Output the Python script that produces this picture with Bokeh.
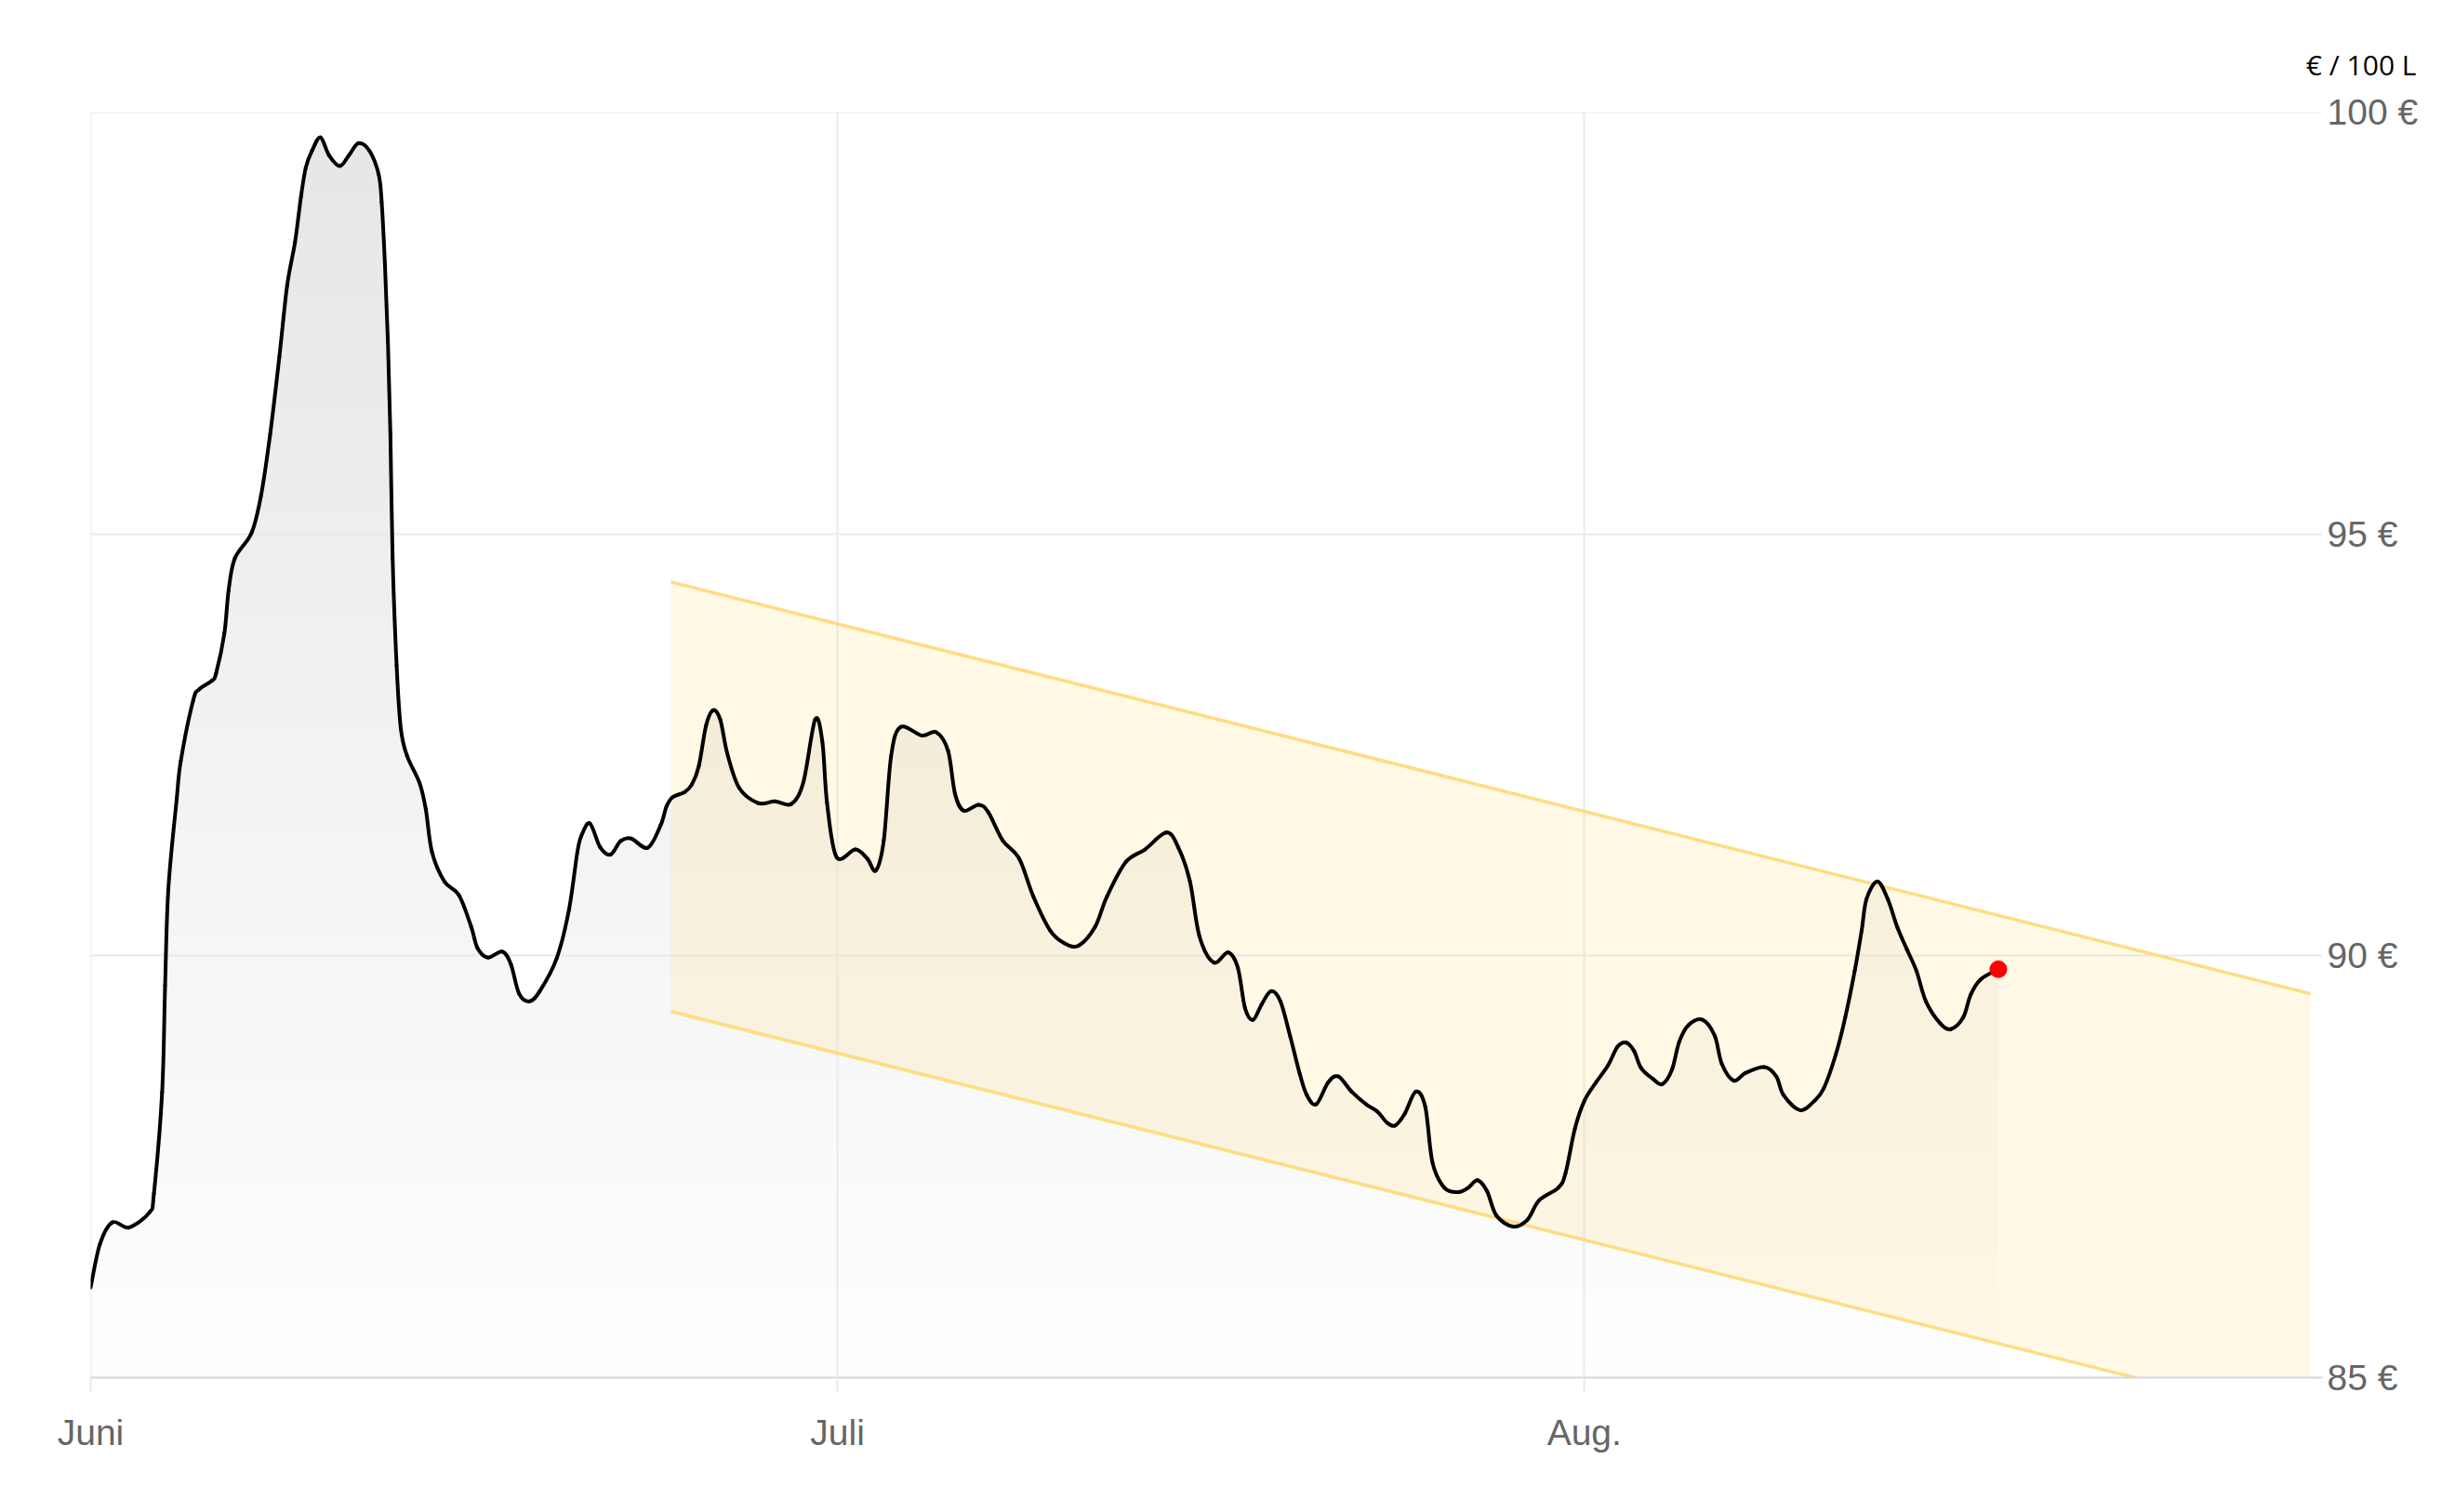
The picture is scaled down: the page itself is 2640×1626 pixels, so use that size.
import numpy as np
from bokeh.plotting import figure
from bokeh.models import FixedTicker, Range1d, Title
from bokeh.embed import file_html
from bokeh.resources import INLINE

# ---------------- data ----------------
month_ticks = [0, 30, 60]
month_labels = ["Juni", "Juli", "Aug."]
price_ticks = [85, 90, 95, 100]
price_labels = ["85 €", "90 €", "95 €", "100 €"]
unit_label = "€ / 100 L"

day = [0.00, 0.37, 0.87, 1.54, 2.37, 2.54, 2.87, 2.99, 3.12, 3.46, 3.62, 4.12, 4.37,
       4.87, 5.04, 5.37, 5.54, 5.79, 6.46, 6.84, 7.21, 7.58, 7.89, 8.21, 8.45, 8.64,
       8.89, 9.23, 9.57, 10.01, 10.38, 10.76, 11.20, 11.57, 11.69, 11.82, 11.94, 12.04,
       12.13, 12.29, 12.46, 12.71, 13.21, 13.46, 13.71, 14.21, 14.79, 15.29, 15.54,
       15.96, 16.54, 16.88, 17.21, 17.63, 18.04, 18.72, 19.21, 19.55, 19.71, 20.05,
       20.46, 20.88, 21.29, 21.71, 22.38, 22.90, 23.13, 23.38, 23.86, 24.15, 24.43,
       24.72, 25.00, 25.29, 25.57, 26.05, 26.81, 27.48, 28.15, 28.63, 29.10, 29.39,
       29.58, 29.96, 30.72, 31.20, 31.54, 31.86, 32.15, 32.53, 33.39, 33.96, 34.44,
       34.72, 35.07, 35.67, 36.06, 36.63, 37.30, 37.87, 38.54, 39.11, 39.68, 40.34,
       40.82, 41.58, 42.35, 43.21, 43.68, 44.15, 44.54, 45.11, 45.69, 46.08, 46.37,
       46.69, 47.03, 47.41, 47.79, 48.18, 48.56, 48.85, 49.23, 49.71, 50.12, 50.65,
       51.23, 51.70, 52.08, 52.41, 52.79, 53.23, 53.61, 53.90, 54.38, 54.95, 55.33,
       55.71, 56.09, 56.47, 57.13, 57.71, 58.18, 58.95, 59.24, 59.62, 60.00, 60.47,
       60.95, 61.33, 61.68, 62.00, 62.28, 62.76, 63.14, 63.52, 63.81, 64.19, 64.76,
       65.24, 65.52, 66.00, 66.47, 67.23, 67.71, 68.00, 68.67, 69.24, 69.62, 70.10,
       70.48, 70.86, 71.14, 71.33, 71.77, 72.19, 72.57, 72.95, 73.34, 73.72, 74.29,
       74.72, 75.22, 75.52, 75.92, 76.63]

price = [86.07, 86.58, 86.84, 86.78, 86.96, 87.18, 88.38, 89.65, 90.79, 91.87, 92.31,
         93.03, 93.16, 93.26, 93.35, 93.82, 94.33, 94.71, 95.01, 95.45, 96.18, 97.10,
         97.94, 98.46, 99.00, 99.34, 99.54, 99.70, 99.49, 99.36, 99.49, 99.63, 99.54,
         99.26, 98.93, 98.20, 97.28, 96.18, 94.71, 93.44, 92.69, 92.37, 92.05, 91.74,
         91.23, 90.88, 90.72, 90.34, 90.09, 89.98, 90.05, 89.90, 89.55, 89.46, 89.58,
         89.97, 90.54, 91.23, 91.42, 91.57, 91.29, 91.20, 91.36, 91.39, 91.28, 91.55,
         91.77, 91.88, 91.94, 92.03, 92.25, 92.73, 92.91, 92.80, 92.40, 91.99, 91.81,
         91.83, 91.80, 92.06, 92.80, 92.54, 91.81, 91.17, 91.26, 91.15, 91.01, 91.37,
         92.36, 92.71, 92.61, 92.65, 92.43, 91.92, 91.72, 91.79, 91.70, 91.37, 91.15,
         90.70, 90.30, 90.15, 90.12, 90.34, 90.70, 91.11, 91.26, 91.46, 91.29, 90.89,
         90.23, 89.92, 90.04, 89.86, 89.38, 89.24, 89.42, 89.58, 89.46, 89.05, 88.61,
         88.35, 88.24, 88.50, 88.57, 88.39, 88.24, 88.15, 88.02, 87.99, 88.13, 88.39,
         88.21, 87.55, 87.25, 87.20, 87.25, 87.34, 87.21, 86.92, 86.79, 86.87, 87.10,
         87.25, 87.42, 87.95, 88.28, 88.50, 88.70, 88.92, 88.97, 88.87, 88.67, 88.54,
         88.48, 88.65, 88.98, 89.18, 89.24, 89.05, 88.72, 88.52, 88.61, 88.68, 88.57,
         88.35, 88.17, 88.28, 88.43, 88.83, 89.27, 89.82, 90.30, 90.67, 90.88, 90.67,
         90.34, 90.08, 89.82, 89.46, 89.20, 89.13, 89.27, 89.54, 89.72, 89.84]

channel_x = [23.31, 89.17]
channel_upper = [94.43, 89.55]
channel_lower = [89.34, 84.48]

# ---------------- figure ----------------
FONT = "Liberation Sans"
p = figure(width=2620, height=1600,
           x_range=Range1d(0, 89.65), y_range=Range1d(85, 100),
           y_axis_location="right",
           output_backend="svg", toolbar_location=None,
           min_border_left=97, min_border_right=123,
           min_border_top=120, min_border_bottom=119)
p.outline_line_color = None
p.background_fill_color = "white"
p.border_fill_color = "white"
p.xgrid.visible = False
p.ygrid.visible = False

# gradient area under the curve (stacked opaque strips, darkest first)
x_arr = np.array(day)
y_arr = np.array(price)
N = 60
lo, hi = 85.0, 100.0
for k in range(N - 1, -1, -1):
    upper = lo + (k + 1) * (hi - lo) / N
    mid = lo + (k + 0.5) * (hi - lo) / N
    g = int(round(254 - (mid - lo) / (hi - lo) * 24))
    col = "#%02x%02x%02x" % (g, g, g)
    p.varea(x=x_arr, y1=np.full_like(y_arr, lo), y2=np.minimum(y_arr, upper),
            fill_color=col, fill_alpha=1.0)

# grid lines drawn above the fill
grid_col = "#eaeaef"
p.hspan(y=[t for t in price_ticks if t > lo], line_color=grid_col, line_width=2)
p.vspan(x=month_ticks, line_color=grid_col, line_width=2)

# trend channel
p.patch(x=[channel_x[0], channel_x[1], channel_x[1], channel_x[0]],
        y=[channel_upper[0], channel_upper[1], channel_lower[1], channel_lower[0]],
        fill_color="#ffcc33", fill_alpha=0.12, line_color=None)
p.line(channel_x, channel_upper, line_color="#ffdc80", line_width=3.5)
p.line(channel_x, channel_lower, line_color="#ffdc80", line_width=3.5)

# price curve: smooth Catmull-Rom rendering through the read points
P = np.column_stack([x_arr, y_arr])
Pm = np.vstack([P[0], P, P[-1]])
p0 = Pm[1:-2]
p1 = Pm[2:-1]
c0 = p0 + (Pm[2:-1] - Pm[0:-3]) / 6.0
c1 = p1 - (Pm[3:] - Pm[1:-2]) / 6.0
p.bezier(x0=p0[:, 0], y0=p0[:, 1], x1=p1[:, 0], y1=p1[:, 1],
         cx0=c0[:, 0], cy0=c0[:, 1], cx1=c1[:, 0], cy1=c1[:, 1],
         line_color="black", line_width=4, line_cap="round")
p.scatter([day[-1]], [price[-1]], size=19, fill_color="#ff0000", line_color=None)

# axes
xa = p.xaxis[0]
xa.ticker = FixedTicker(ticks=month_ticks)
xa.major_label_overrides = {t: l for t, l in zip(month_ticks, month_labels)}
xa.axis_line_color = "#d6d6dc"
xa.axis_line_width = 2
xa.major_tick_in = 0
xa.major_tick_out = 16
xa.major_tick_line_color = grid_col
xa.major_tick_line_width = 2
xa.minor_tick_line_color = None
xa.major_label_standoff = 21
xa.major_label_text_font = FONT
xa.major_label_text_font_size = "39px"
xa.major_label_text_color = "#666666"

ya = p.yaxis[0]
ya.ticker = FixedTicker(ticks=price_ticks)
ya.major_label_overrides = {t: l for t, l in zip(price_ticks, price_labels)}
ya.axis_line_color = None
ya.major_tick_line_color = None
ya.minor_tick_line_color = None
ya.major_tick_in = 0
ya.major_tick_out = 0
ya.major_label_standoff = 5
ya.major_label_text_font = FONT
ya.major_label_text_font_size = "39px"
ya.major_label_text_color = "#666666"

p.add_layout(Title(text=unit_label, align="right", offset=-101, standoff=61,
                   text_font="Open Sans", text_font_size="30px",
                   text_font_style="normal", text_color="black"), "above")

open("out.html", "w").write(file_html(p, INLINE))
